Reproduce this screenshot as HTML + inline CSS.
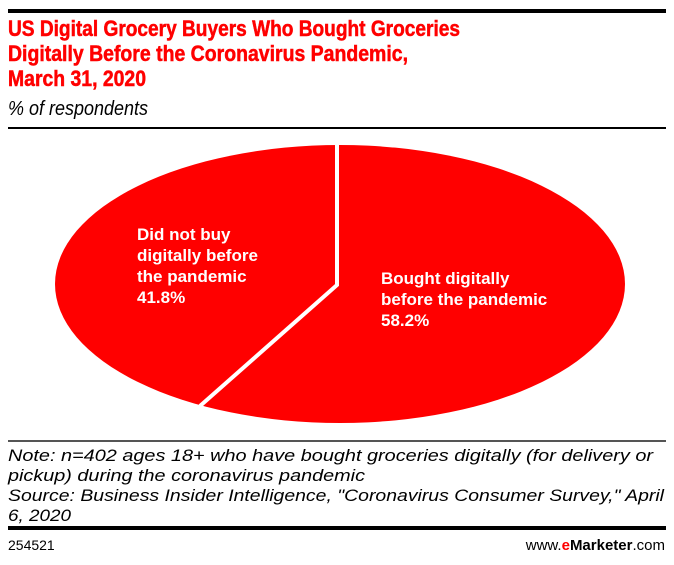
<!DOCTYPE html>
<html><head><style>
body{margin:0;background:#fff;width:674px;height:560px;overflow:hidden;font-family:"Liberation Sans",sans-serif;}
</style></head><body>
<svg width="674" height="560" viewBox="0 0 674 560" xmlns="http://www.w3.org/2000/svg">
<rect x="8" y="9" width="658" height="4" fill="#000"/>
<g font-family="Liberation Sans, sans-serif" font-weight="bold" font-size="22" fill="#ff0000" stroke="#ff0000" stroke-width="0.5">
<text x="8" y="36" textLength="452" lengthAdjust="spacingAndGlyphs">US Digital Grocery Buyers Who Bought Groceries</text>
<text x="8" y="61" textLength="400" lengthAdjust="spacingAndGlyphs">Digitally Before the Coronavirus Pandemic,</text>
<text x="8" y="86" textLength="138" lengthAdjust="spacingAndGlyphs">March 31, 2020</text>
</g>
<text x="8" y="115" font-size="20" font-style="italic" fill="#000" textLength="140" lengthAdjust="spacingAndGlyphs">% of respondents</text>
<rect x="8" y="127" width="658" height="2" fill="#000"/>
<ellipse cx="340" cy="284" rx="285" ry="139" fill="#ff0000"/>
<polyline points="337,143 337,285 200,406" fill="none" stroke="#fff" stroke-width="4"/>
<g font-weight="bold" font-size="17" fill="#fff">
<text x="137" y="240">Did not buy</text>
<text x="137" y="261">digitally before</text>
<text x="137" y="282">the pandemic</text>
<text x="137" y="303">41.8%</text>
<text x="381" y="284">Bought digitally</text>
<text x="381" y="305">before the pandemic</text>
<text x="381" y="326">58.2%</text>
</g>
<rect x="8" y="440" width="658" height="2" fill="#555"/>
<g font-size="17" font-style="italic" fill="#000">
<text x="8" y="461" textLength="645" lengthAdjust="spacingAndGlyphs">Note: n=402 ages 18+ who have bought groceries digitally (for delivery or</text>
<text x="8" y="481" textLength="357" lengthAdjust="spacingAndGlyphs">pickup) during the coronavirus pandemic</text>
<text x="8" y="501" textLength="656" lengthAdjust="spacingAndGlyphs">Source: Business Insider Intelligence, "Coronavirus Consumer Survey," April</text>
<text x="8" y="521" textLength="63" lengthAdjust="spacingAndGlyphs">6, 2020</text>
</g>
<rect x="8" y="526" width="658" height="4" fill="#000"/>
<text x="8" y="550" font-size="14" fill="#000">254521</text>
<text x="665" y="550" font-size="15" fill="#000" text-anchor="end">www.<tspan fill="#ff0000" font-weight="bold">e</tspan><tspan font-weight="bold">Marketer</tspan>.com</text>
</svg>
</body></html>
